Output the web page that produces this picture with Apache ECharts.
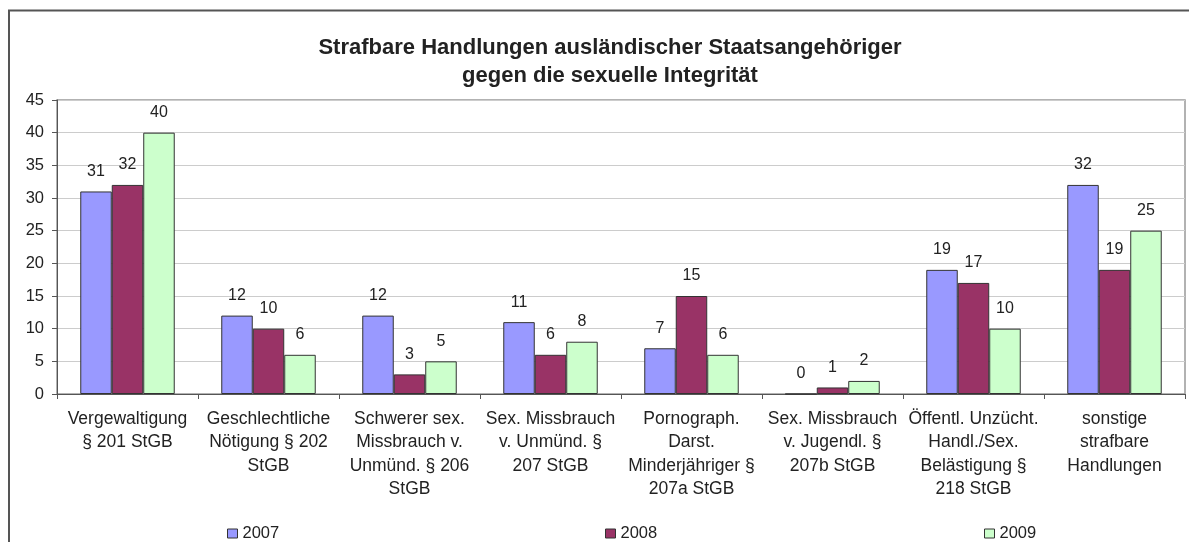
<!DOCTYPE html>
<html>
<head>
<meta charset="utf-8">
<script src="https://cdn.jsdelivr.net/npm/echarts@6/dist/echarts.min.js"></script>
<style>
html,body{margin:0;padding:0;background:#fff;}
#chart{width:1189px;height:542px;}
</style>
</head>
<body>
<div id="chart"></div>
<script>
const categories = [
  "Vergewaltigung\n§ 201 StGB",
  "Geschlechtliche\nNötigung § 202\nStGB",
  "Schwerer sex.\nMissbrauch v.\nUnmünd. § 206\nStGB",
  "Sex. Missbrauch\nv. Unmünd. §\n207 StGB",
  "Pornograph.\nDarst.\nMinderjähriger §\n207a StGB",
  "Sex. Missbrauch\nv. Jugendl. §\n207b StGB",
  "Öffentl. Unzücht.\nHandl./Sex.\nBelästigung §\n218 StGB",
  "sonstige\nstrafbare\nHandlungen"
];
const values2007 = [31, 12, 12, 11, 7, 0, 19, 32];
const values2008 = [32, 10, 3, 6, 15, 1, 17, 19];
const values2009 = [40, 6, 5, 8, 6, 2, 10, 25];
const seriesNames = ["2007", "2008", "2009"];
const titleText = "Strafbare Handlungen ausländischer Staatsangehöriger\ngegen die sexuelle Integrität";

const FONT = "Liberation Sans, Arial, sans-serif";
const colors = ["#9999FF", "#993366", "#CCFFCC"];
const allValues = [values2007, values2008, values2009];

const chart = echarts.init(document.getElementById('chart'), null, {renderer: 'canvas'});

const series = seriesNames.map((n, i) => ({
  name: n,
  type: 'bar',
  data: allValues[i],
  barGap: '0%',
  barCategoryGap: '33%',
  itemStyle: {color: colors[i], borderColor: '#333333', borderWidth: 1},
  label: {
    show: true, position: 'top', distance: 12,
    fontFamily: FONT, fontSize: 16, color: '#222222'
  }
}));

const legendLefts = [222, 600, 979];
const legends = seriesNames.map((n, i) => ({
  data: [n],
  left: legendLefts[i],
  top: 520,
  itemWidth: 10, itemHeight: 9, itemGap: 3,
  icon: 'rect',
  textStyle: {fontFamily: FONT, fontSize: 16.5, color: '#222222', padding: [0,0,0,0]},
  itemStyle: {borderColor: '#333333', borderWidth: 1},
  selectedMode: false
}));

chart.setOption({
  animation: false,
  backgroundColor: '#ffffff',
  title: {
    text: titleText,
    left: 605, textAlign: 'center',
    top: 29,
    textStyle: {fontFamily: FONT, fontSize: 22, fontWeight: 'bold', color: '#222222', lineHeight: 28}
  },
  graphic: [{
    type: 'rect',
    shape: {x: 9, y: 10.5, width: 1300, height: 700},
    style: {fill: 'none', stroke: '#555555', lineWidth: 2},
    silent: true, z: -1
  }],
  legend: legends,
  grid: {
    left: 57, right: 4, top: 100, bottom: 148,
    show: true, borderColor: '#999999', borderWidth: 1.5, backgroundColor: 'transparent'
  },
  xAxis: {
    type: 'category',
    data: categories,
    axisLine: {lineStyle: {color: '#555555', width: 1}},
    axisTick: {show: true, alignWithLabel: false, length: 5, lineStyle: {color: '#555555'}},
    axisLabel: {
      interval: 0, margin: 13,
      fontFamily: FONT, fontSize: 17.5, color: '#222222', lineHeight: 23.5
    }
  },
  yAxis: {
    type: 'value',
    min: 0, max: 45, interval: 5,
    axisLine: {show: true, lineStyle: {color: '#555555', width: 1}},
    axisTick: {show: true, length: 5, lineStyle: {color: '#555555'}},
    axisLabel: {margin: 13, fontFamily: FONT, fontSize: 16.5, color: '#222222'},
    splitLine: {show: true, lineStyle: {color: '#cccccc', width: 1}}
  },
  series: series
});
</script>
</body>
</html>
